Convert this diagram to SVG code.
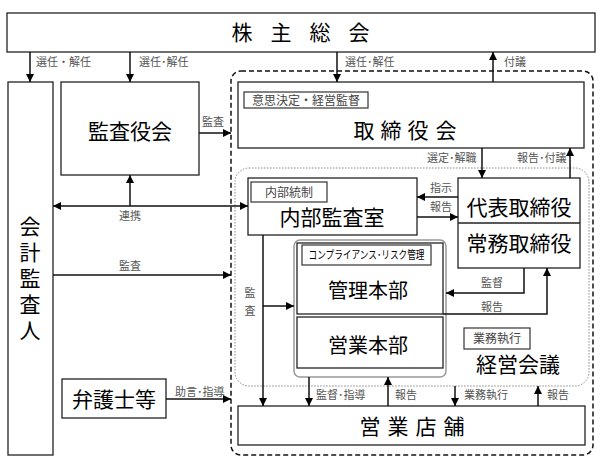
<svg xmlns="http://www.w3.org/2000/svg" width="603" height="462" viewBox="0 0 603 462">
<defs>
<marker id="ah" viewBox="0 0 10 10" refX="10" refY="5" markerWidth="8" markerHeight="8" markerUnits="userSpaceOnUse" orient="auto-start-reverse">
<path d="M0,0 L10,5 L0,10 z" fill="#000"/>
</marker>
<style>
text{font-family:"Noto Sans CJK JP","Noto Sans CJK SC",sans-serif;fill:#000}
.box{fill:#fff;stroke:#222;stroke-width:1.3}
.sub{fill:#fff;stroke:#333;stroke-width:1.2}
.big{font-size:21px;text-anchor:middle}
.mid{font-size:20px;text-anchor:middle}
.lbl{font-size:11px;fill:#555}
.sl{font-size:12px;fill:#444;text-anchor:middle}
.c{text-anchor:middle}
.ln{fill:none;stroke:#111;stroke-width:1.5}
.ar{marker-end:url(#ah)}
</style>
</defs>
<rect width="603" height="462" fill="#fff"/>

<g id="frames">
<rect x="231" y="71" width="362" height="384" rx="10" fill="none" stroke="#111" stroke-width="1.5" stroke-dasharray="5,3"/>
<rect x="235" y="168" width="354" height="218" rx="14" fill="none" stroke="#888" stroke-width="1" stroke-dasharray="1.5,1.5"/>
</g>

<g id="kabunushi">
<rect class="box" x="7" y="13" width="588" height="39"/>
<text class="big" x="242 281 320 359" y="40">株主総会</text>
</g>

<g id="kaikei">
<rect class="box" x="8" y="82" width="45" height="373"/>
<text x="30" y="281" font-size="21" text-anchor="middle" writing-mode="vertical-rl" letter-spacing="5">会計監査人</text>
</g>

<g id="kansayaku">
<rect class="box" x="61" y="82" width="138" height="93"/>
<text class="big" x="130" y="139">監査役会</text>
</g>

<g id="torishimari">
<rect class="box" x="238" y="82" width="346" height="66"/>
<rect class="sub" x="244" y="92" width="124" height="16"/>
<text class="sl" x="306" y="104.5">意思決定・経営監督</text>
<text class="big" x="364 391 418 446" y="138">取締役会</text>
</g>

<g id="naibu">
<rect class="box" x="248" y="178" width="169" height="57"/>
<rect class="sub" x="251" y="182" width="76" height="20"/>
<text class="sl" x="289" y="196.5">内部統制</text>
<text class="big" x="332" y="225">内部監査室</text>
</g>

<g id="daihyo">
<rect class="box" x="458" y="178" width="122" height="90"/>
<line x1="458" y1="223" x2="580" y2="223" stroke="#222" stroke-width="1.3"/>
<text class="big" x="519" y="215">代表取締役</text>
<text class="big" x="519" y="251">常務取締役</text>
</g>

<g id="honbu">
<rect x="294" y="240" width="152" height="137" rx="6" fill="#fff" stroke="#999" stroke-width="1.5"/>
<rect class="box" x="297" y="243" width="146" height="71"/>
<rect class="box" x="297" y="317" width="146" height="51"/>
<rect class="sub" x="302" y="245" width="129" height="20"/>
<text x="366.5" y="259" font-size="11" fill="#444" text-anchor="middle" textLength="116" lengthAdjust="spacingAndGlyphs">コンプライアンス･リスク管理</text>
<text class="mid" x="368" y="298">管理本部</text>
<text class="mid" x="368" y="353">営業本部</text>
</g>

<g id="keiei">
<rect class="sub" x="464" y="328" width="66" height="21"/>
<text class="sl" x="497" y="343">業務執行</text>
<text class="big" x="518" y="372">経営会議</text>
</g>

<g id="bengoshi">
<rect class="box" x="62" y="379" width="104" height="39"/>
<text class="big" x="114" y="407">弁護士等</text>
</g>

<g id="eigyo">
<rect class="box" x="238" y="406" width="347" height="39"/>
<text class="big" x="370 398 426 454" y="434">営業店舗</text>
</g>

<g id="connectors">
<line class="ln ar" x1="30" y1="52" x2="30" y2="82"/>
<line class="ln ar" x1="130" y1="52" x2="130" y2="82"/>
<line class="ln ar" x1="337" y1="52" x2="337" y2="82"/>
<line class="ln ar" x1="493" y1="82" x2="493" y2="52"/>
<line class="ln ar" x1="199" y1="133" x2="231" y2="133"/>
<line class="ln ar" x1="482" y1="148" x2="482" y2="178"/>
<line class="ln ar" x1="570" y1="178" x2="570" y2="148"/>
<line class="ln ar" x1="458" y1="197" x2="417" y2="197"/>
<line class="ln ar" x1="417" y1="217" x2="458" y2="217"/>
<line class="ln ar" x1="53" y1="206" x2="248" y2="206" marker-start="url(#ah)"/>
<line class="ln ar" x1="130" y1="206" x2="130" y2="175"/>
<line class="ln ar" x1="53" y1="275" x2="231" y2="275"/>
<line class="ln ar" x1="263" y1="235" x2="263" y2="406"/>
<line class="ln ar" x1="263" y1="306" x2="294" y2="306"/>
<polyline class="ln ar" points="524,268 524,293 446,293"/>
<polyline class="ln ar" points="443,314 547,314 547,268"/>
<line class="ln ar" x1="166" y1="399" x2="231" y2="399"/>
<line class="ln ar" x1="309" y1="377" x2="309" y2="406"/>
<line class="ln ar" x1="388" y1="406" x2="388" y2="377"/>
<line class="ln ar" x1="455" y1="386" x2="455" y2="406"/>
<line class="ln ar" x1="538" y1="406" x2="538" y2="386"/>
</g>

<g id="labels">
<text class="lbl" x="36" y="66">選任・解任</text>
<text class="lbl" x="139" y="66">選任･解任</text>
<text class="lbl" x="345" y="66">選任･解任</text>
<text class="lbl" x="504" y="66">付議</text>
<text class="lbl c" x="213" y="126">監査</text>
<text class="lbl" x="427" y="162">選定･解職</text>
<text class="lbl" x="517" y="162">報告･付議</text>
<text class="lbl" x="430" y="192">指示</text>
<text class="lbl" x="430" y="211">報告</text>
<text class="lbl c" x="130" y="220">連携</text>
<text class="lbl c" x="130" y="270">監査</text>
<text class="lbl c" x="250" y="297">監</text>
<text class="lbl c" x="250" y="315">査</text>
<text class="lbl c" x="492" y="287">監督</text>
<text class="lbl c" x="492" y="311">報告</text>
<text class="lbl" x="175" y="396">助言･指導</text>
<text class="lbl" x="316" y="399">監督･指導</text>
<text class="lbl" x="395" y="399">報告</text>
<text class="lbl" x="464" y="399">業務執行</text>
<text class="lbl" x="547" y="399">報告</text>
</g>
</svg>
